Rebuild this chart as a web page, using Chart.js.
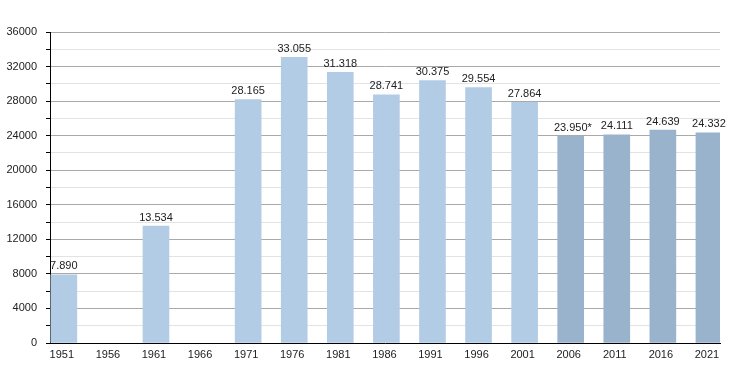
<!DOCTYPE html>
<html><head><meta charset="utf-8">
<script src="https://cdn.jsdelivr.net/npm/chart.js@4/dist/chart.umd.min.js"></script>
<style>html,body{margin:0;padding:0;background:#fff}#wrap{width:750px;height:373px}</style>
</head><body><div id="wrap"><canvas id="c" width="750" height="373"></canvas></div>
<script>
const years = [1951,1956,1961,1966,1971,1976,1981,1986,1991,1996,2001,2006,2011,2016,2021];
const population = [7890,null,13534,null,28165,33055,31318,28741,30375,29554,27864,23950,24111,24639,24332];
const valueNotes = ['','','','','','','','','','','','*','','',''];
const yTicks = [0,4000,8000,12000,16000,20000,24000,28000,32000,36000];
const lightBlue = '#b3cce6';
const darkBlue = '#99b3cc';
const barColors = years.map(y => y >= 2006 ? darkBlue : lightBlue);

const FONT = "'Liberation Sans', Arial, Helvetica, sans-serif";

function fmt(v){ return String(v).replace(/\B(?=(\d{3})+(?!\d))/g,'.'); }

const labelPlugin = {
  id:'valueLabels',
  afterDatasetsDraw(chart){
    const ctx = chart.ctx;
    const meta = chart.getDatasetMeta(0);
    ctx.save();
    ctx.font = '11px ' + FONT;
    ctx.fillStyle = '#222';
    ctx.textBaseline = 'bottom';
    meta.data.forEach((el,i)=>{
      const v = population[i];
      if (v === null) return;
      const num = fmt(v);
      const w = ctx.measureText(num).width;
      ctx.textAlign = 'left';
      ctx.fillText(num + valueNotes[i], el.x - w/2, el.y - 3);
    });
    ctx.restore();
  }
};

new Chart(document.getElementById('c'), {
  type:'bar',
  data:{
    datasets:[{
      data: years.map((y,i)=>({x:y, y:population[i]})),
      backgroundColor: barColors,
      borderWidth:0,
      barThickness:26
    }]
  },
  options:{
    responsive:false,
    animation:false,
    layout:{padding:{top:32,right:30,left:0,bottom:0}},
    plugins:{legend:{display:false},tooltip:{enabled:false}},
    scales:{
      x:{
        type:'linear',
        offset:false,
        min:1949.5, max:2022.2,
        afterBuildTicks(scale){ scale.ticks = years.map(v=>({value:v})); },
        grid:{display:false, drawTicks:false, offset:false},
        border:{display:true,color:'#000',width:1},
        ticks:{color:'#222',font:{family:FONT,size:11},padding:5,autoSkip:false,maxRotation:0,
          labelOffset:-2, callback:(v)=>String(v)},
        afterFit(scale){ scale.height = 30; }
      },
      y:{
        min:0,max:36000,
        afterBuildTicks(scale){
          const t=[]; for(let v=0; v<=36000; v+=2000) t.push({value:v});
          scale.ticks=t;
        },
        grid:{
          color:(c)=> (c.tick && c.tick.value % 4000 === 0) ? '#a9a9a9' : '#e3e3e3',
          tickColor:'#000', tickLength:4, drawTicks:true
        },
        border:{display:true,color:'#000',width:1},
        ticks:{color:'#222',font:{family:FONT,size:11},padding:9,
          callback:(v)=> yTicks.includes(v) ? String(v) : ''},
        afterFit(scale){ scale.width = 50; }
      }
    }
  },
  plugins:[labelPlugin]
});
</script></body></html>
